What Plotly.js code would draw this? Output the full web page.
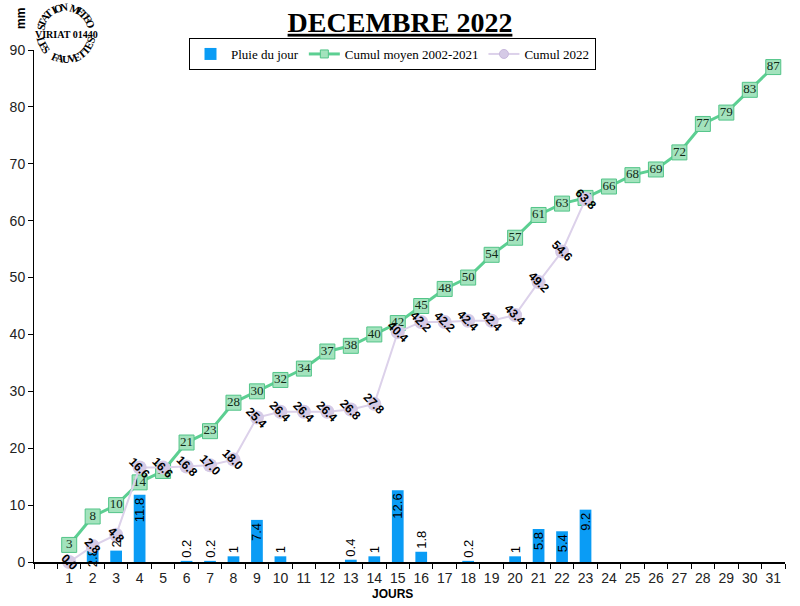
<!DOCTYPE html>
<html>
<head>
<meta charset="utf-8">
<script src="https://cdn.plot.ly/plotly-3.0.1.min.js"></script>
<style>html,body{margin:0;padding:0;background:#fff;}#chart{width:800px;height:606px;}</style>
</head>
<body>
<div id="chart"></div>
<script>
// ---- data ----
const days = [];
for (let d = 1; d <= 31; d++) days.push(d);
const rainDays = [1,2,3,4,5,6,7,8,9,10,11,12,13,14,15,16,17,18,19,20,21,22,23];
const rainDaily = [0,2.8,2,11.8,0,0.2,0.2,1,7.4,1,0,0,0.4,1,12.6,1.8,0,0.2,0,1,5.8,5.4,9.2];
const rainLabels = ["","2.8","2","11.8","","0.2","0.2","1","7.4","1","","","0.4","1","12.6","1.8","","0.2","","1","5.8","5.4","9.2"];
const cumulMoyen = [3,8,10,14,16,21,23,28,30,32,34,37,38,40,42,45,48,50,54,57,61,63,64,66,68,69,72,77,79,83,87];
const cumul2022 = [0.0,2.8,4.8,16.6,16.6,16.8,17.0,18.0,25.4,26.4,26.4,26.4,26.8,27.8,40.4,42.2,42.2,42.4,42.4,43.4,49.2,54.6,63.8];
const cumul2022Labels = ["0.0","2.8","4.8","16.6","16.6","16.8","17.0","18.0","25.4","26.4","26.4","26.4","26.8","27.8","40.4","42.2","42.2","42.4","42.4","43.4","49.2","54.6","63.8"];

// ---- geometry helpers (plot area in px) ----
const W = 800, H = 606, ML = 34, MR = 15, MT = 50, MB = 44;
const PW = W - ML - MR, PH = H - MT - MB;
const px2x = p => (p - ML) / PW;
const py2y = p => (H - MB - p) / PH;

const GREEN_LINE = '#5ccf92', GREEN_FILL = '#a3e3bd', GREEN_EDGE = '#52c488';
const PURPLE_LINE = '#dcd1ea', PURPLE_FILL = '#d5cae6';

const traces = [
  {
    type: 'bar', name: 'Pluie du jour', x: rainDays, y: rainDaily,
    text: rainLabels, textposition: 'auto', textangle: -90,
    insidetextanchor: 'end', constraintext: 'none', cliponaxis: false,
    textfont: {family: 'Liberation Sans, Arial', size: 13, color: '#000'},
    marker: {color: '#0a9cf5', line: {width: 0}}, width: 0.5,
    hoverinfo: 'skip'
  },
  {
    type: 'scatter', mode: 'lines+markers+text', name: 'Cumul moyen 2002-2021', showlegend: false,
    x: days, y: cumulMoyen, text: cumulMoyen.map(String), textposition: 'middle center',
    textfont: {family: 'Liberation Serif, Times New Roman', size: 13, color: '#102a18'},
    line: {color: GREEN_LINE, width: 3},
    marker: {symbol: 'square', size: 15, color: GREEN_FILL, line: {color: GREEN_EDGE, width: 1}},
    cliponaxis: false, hoverinfo: 'skip'
  },
  {
    type: 'scatter', mode: 'lines+markers', name: 'Cumul 2022', showlegend: false,
    x: rainDays, y: cumul2022,
    line: {color: PURPLE_LINE, width: 2},
    marker: {symbol: 'circle', size: 14, color: PURPLE_FILL, line: {width: 0}},
    cliponaxis: false, hoverinfo: 'skip'
  },
  // legend entries (smaller symbols, as in the reference legend)
  {
    type: 'scatter', mode: 'lines+markers', name: 'Cumul moyen 2002-2021', x: [null], y: [null],
    line: {color: GREEN_LINE, width: 3},
    marker: {symbol: 'square', size: 8, color: GREEN_FILL, line: {color: GREEN_EDGE, width: 1}},
    hoverinfo: 'skip'
  },
  {
    type: 'scatter', mode: 'lines+markers', name: 'Cumul 2022', x: [null], y: [null],
    line: {color: PURPLE_LINE, width: 2},
    marker: {symbol: 'circle', size: 9, color: PURPLE_FILL, line: {color: '#c8b8dc', width: 1}},
    hoverinfo: 'skip'
  },
  { // host for the day-label axis
    type: 'scatter', x: [1], y: [0], xaxis: 'x2', mode: 'none', showlegend: false, hoverinfo: 'skip'
  }
];

const annotations = [];
cumul2022.forEach((v, i) => {
  annotations.push({
    x: rainDays[i], y: v, xref: 'x', yref: 'y', text: '<b>' + cumul2022Labels[i] + '</b>',
    showarrow: false, textangle: 45, xanchor: 'center', yanchor: 'middle',
    font: {family: 'Liberation Sans, Arial', size: 12, color: '#000'}
  });
});

// logo (STATION METEO / VIRIAT 01440 / LES FAUVETTES)
const cx = 66, cy = 33, R = 26;
function arcText(str, a0, a1, top) {
  const n = str.length;
  for (let i = 0; i < n; i++) {
    const th = (a0 + (a1 - a0) * i / (n - 1)) * Math.PI / 180;
    const px = cx + R * Math.cos(th), py = cy - R * Math.sin(th);
    const deg = th * 180 / Math.PI;
    annotations.push({
      xref: 'paper', yref: 'paper', x: px2x(px), y: py2y(py), text: '<b>' + str[i] + '</b>',
      xanchor: 'center', yanchor: 'middle',
      showarrow: false, textangle: top ? 90 - deg : 270 - deg,
      font: {family: 'Liberation Serif, Times New Roman', size: 11, color: '#000'}
    });
  }
}
arcText('STATION METEO', 168, 20, true);
arcText('LES FAUVETTES', 196, 344, false);
annotations.push({
  xref: 'paper', yref: 'paper', x: px2x(cx), y: py2y(cy + 1), text: '<b>VIRIAT 01440</b>', showarrow: false,
  xanchor: 'center', yanchor: 'middle',
  font: {family: 'Liberation Serif, Times New Roman', size: 10, color: '#000'}
});
// mm label
annotations.push({
  xref: 'paper', yref: 'paper', x: px2x(21), y: py2y(19), text: '<b>mm</b>', showarrow: false, textangle: -90,
  xanchor: 'center', yanchor: 'middle',
  font: {family: 'Liberation Sans, Arial', size: 12, color: '#000'}
});
// JOURS
annotations.push({
  xref: 'paper', yref: 'paper', x: px2x(392), y: py2y(594), text: '<b>JOURS</b>', showarrow: false,
  xanchor: 'center', yanchor: 'middle',
  font: {family: 'Liberation Sans, Arial', size: 12, color: '#000'}
});

const layout = {
  width: W, height: H,
  margin: {l: ML, r: MR, t: MT, b: MB, pad: 0},
  paper_bgcolor: '#fff', plot_bgcolor: '#fff',
  title: {
    text: '<b><u>DECEMBRE 2022</u></b>', x: 0.5, xanchor: 'center', xref: 'container',
    y: 1 - 22 / H, yanchor: 'middle', yref: 'container',
    font: {family: 'Liberation Serif, Times New Roman', size: 28, color: '#000'}
  },
  showlegend: true,
  legend: {
    orientation: 'h', x: px2x(189), xanchor: 'left', y: py2y(38), yanchor: 'top',
    bgcolor: '#fff', bordercolor: '#000', borderwidth: 1, itemwidth: 31,
    font: {family: 'Liberation Serif, Times New Roman', size: 13, color: '#000'},
    traceorder: 'normal'
  },
  xaxis: {
    range: [-0.5, 31.5], tickmode: 'linear', tick0: -0.5, dtick: 1,
    showticklabels: false, ticks: 'outside', ticklen: 5, tickcolor: '#000', tickwidth: 1,
    showgrid: false, zeroline: false, showline: true, linecolor: '#000', linewidth: 1.5,
    fixedrange: true
  },
  xaxis2: {
    overlaying: 'x', range: [-0.5, 31.5], tickmode: 'array', tickvals: days, ticktext: days.map(String),
    ticks: '', showgrid: false, zeroline: false, showline: false, side: 'bottom',
    tickfont: {family: 'Liberation Sans, Arial', size: 14, color: '#222'}, ticklabelstandoff: 6
  },
  yaxis: {
    range: [0, 90], tickmode: 'linear', tick0: 0, dtick: 10,
    ticks: 'outside', ticklen: 5, tickcolor: '#000', showgrid: false, zeroline: false,
    showline: true, linecolor: '#000', linewidth: 1,
    tickfont: {family: 'Liberation Sans, Arial', size: 14, color: '#222'}
  },
  annotations: annotations
};

Plotly.newPlot('chart', traces, layout, {staticPlot: true, displayModeBar: false});
</script>
</body>
</html>
